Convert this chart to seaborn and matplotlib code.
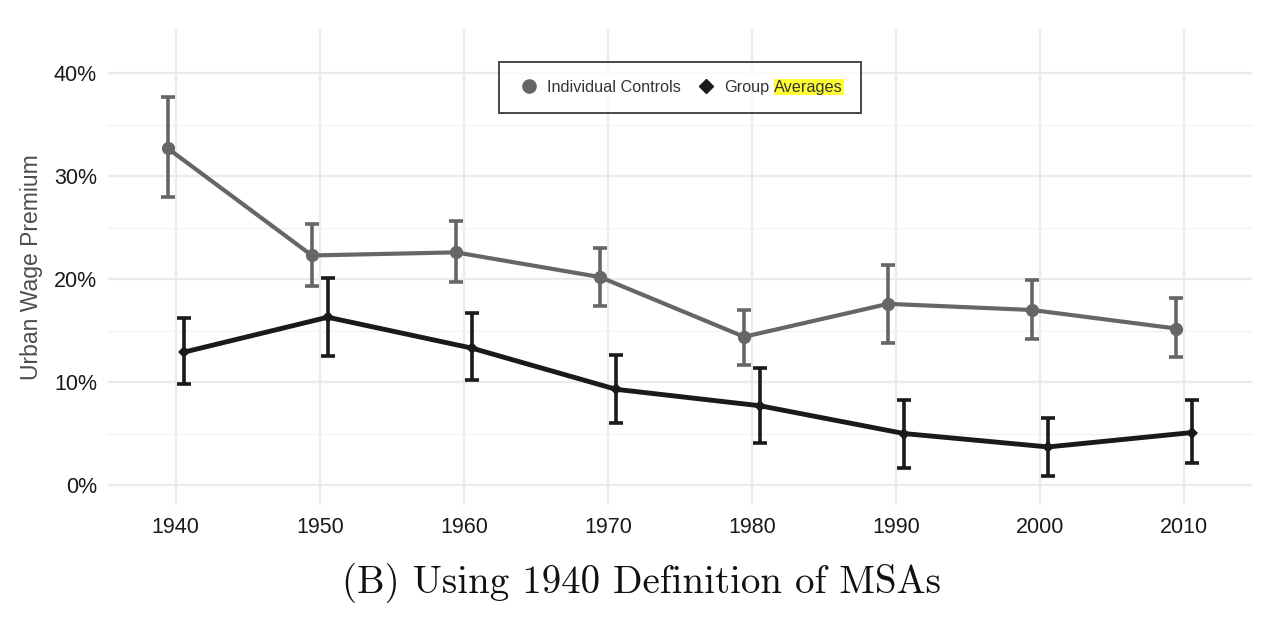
import numpy as np
import pandas as pd
import matplotlib
matplotlib.use("Agg")
import matplotlib.pyplot as plt
import seaborn as sns
from matplotlib.lines import Line2D
from matplotlib.offsetbox import TextArea

years = [1940, 1950, 1960, 1970, 1980, 1990, 2000, 2010]
ind_est = [32.7, 22.3, 22.6, 20.2, 14.4, 17.6, 17.0, 15.2]
ind_lo = [28.0, 19.3, 19.7, 17.4, 11.7, 13.8, 14.2, 12.4]
ind_hi = [37.7, 25.4, 25.6, 23.0, 17.0, 21.4, 19.9, 18.2]
grp_est = [12.9, 16.3, 13.3, 9.3, 7.7, 5.0, 3.7, 5.1]
grp_lo = [9.8, 12.5, 10.2, 6.0, 4.1, 1.7, 0.9, 2.1]
grp_hi = [16.2, 20.1, 16.7, 12.6, 11.4, 8.3, 6.5, 8.3]
series = ["Individual Controls", "Group Averages"]
legend_labels = ["Individual Controls", "Group"]
highlight_word = "Averages"
y_ticks = [0, 10, 20, 30, 40]
caption = "(B) Using 1940 Definition of MSAs"

colors = {"Individual Controls": "#666666", "Group Averages": "#1a1a1a"}
markers = {"Individual Controls": "o", "Group Averages": "D"}
offsets = {"Individual Controls": -0.55, "Group Averages": 0.55}

rows = []
for s, est, lo, hi in [(series[0], ind_est, ind_lo, ind_hi),
                       (series[1], grp_est, grp_lo, grp_hi)]:
    for y, e, l, h in zip(years, est, lo, hi):
        rows.append({"series": s, "year": y, "x": y + offsets[s],
                     "est": e, "lo": l, "hi": h})
df = pd.DataFrame(rows)

sns.set_theme(style="whitegrid")
plt.rcParams['font.family'] = ['Liberation Sans', 'DejaVu Sans']

fig = plt.figure(figsize=(12.86, 6.38), dpi=100)
ax = fig.add_axes([108/1286, 1-505/638, 1144/1286, 475/638])

for s in series:
    d = df[df.series == s]
    ax.errorbar(d["x"], d["est"], yerr=[d["est"]-d["lo"], d["hi"]-d["est"]],
                fmt="none", ecolor=colors[s], elinewidth=2.6, capsize=5,
                capthick=2.6, zorder=2)

sns.lineplot(data=df, x="x", y="est", hue="series", style="series",
             palette=colors, markers=markers, dashes=False, ax=ax,
             linewidth=3.0, markersize=9.5, markeredgewidth=0, legend=False,
             zorder=3, sort=True)
for line in ax.get_lines():
    if matplotlib.colors.to_hex(line.get_color()) == "#1a1a1a":
        line.set_linewidth(3.5)
        line.set_markersize(6)

ax.set_xlim(1935.3, 2014.7)
ax.set_ylim(-1.94, 44.2)
ax.set_xticks(years)
ax.set_xticklabels([str(y) for y in years])
ax.set_yticks(y_ticks)
ax.set_yticklabels([f"{t}%" for t in y_ticks])
ax.set_yticks([5, 15, 25, 35], minor=True)
ax.grid(True, which="major", color="#ebebeb", linewidth=1.6)
ax.grid(True, which="minor", axis="y", color="#f2f2f2", linewidth=1.0)
ax.grid(False, which="minor", axis="x")
for sp in ax.spines.values():
    sp.set_visible(False)
ax.tick_params(axis="both", which="both", length=0, labelsize=15.5,
               labelcolor="#1a1a1a")
ax.tick_params(axis="x", pad=8.5)
ax.tick_params(axis="y", pad=8)
ax.set_xlabel("")
ax.set_ylabel("Urban Wage Premium", fontsize=16.5, color="#4d4d4d", labelpad=8)

handles = [Line2D([], [], linestyle="none", marker=markers[s], color=colors[s],
                  markersize=9.5 if s == series[0] else 7) for s in series]
leg = ax.legend(handles, legend_labels, loc="upper center",
                bbox_to_anchor=((680-108)/1144, (505-62)/475), ncol=2,
                frameon=True, fancybox=False, fontsize=11.7, handletextpad=0.35,
                columnspacing=0.8, borderpad=1.1, handlelength=1.5,
                borderaxespad=0)
leg.get_frame().set_edgecolor("#1a1a1a")
leg.get_frame().set_linewidth(1.4)
for t in leg.get_texts():
    t.set_color("#333333")

# append highlighted word to the second legend entry
cols = leg._legend_handle_box.get_children()
item = cols[1].get_children()[0]
hl = TextArea(highlight_word, textprops=dict(
    color="#333333", fontsize=11.7,
    bbox=dict(facecolor="#ffff33", edgecolor="none", pad=0.3)))
hl.set_figure(fig)
item.get_children().append(hl)
item.sep = 4

fig.text(641/1286, 1-583/638, caption, family="cmr10", fontsize=28,
         ha="center", va="center", color="#111111")

fig.savefig("out.png", dpi=100, facecolor="white")
